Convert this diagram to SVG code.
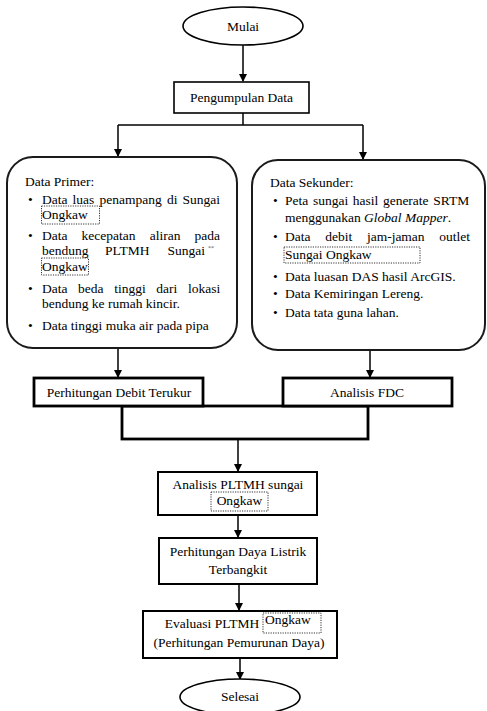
<svg xmlns="http://www.w3.org/2000/svg" width="487" height="711" viewBox="0 0 487 711">
<defs>
<marker id="ah" markerWidth="8" markerHeight="8" refX="7" refY="4" orient="auto" markerUnits="userSpaceOnUse">
<path d="M0,0 L8,4 L0,8 Z" fill="#000"/>
</marker>
<style>
text{font-size:13.5px;fill:#000}
.c{text-anchor:middle}
.box{fill:#fff;stroke:#000;stroke-width:1.6}
.thick{fill:#fff;stroke:#000;stroke-width:2.8}
.rb{fill:#fff;stroke:#1a1a1a;stroke-width:2}
.ln{fill:none;stroke:#000;stroke-width:1.5}
.arr{fill:none;stroke:#000;stroke-width:1.5;marker-end:url(#ah)}
.dot{fill:none;stroke:#000;stroke-width:0.8;stroke-dasharray:1.2 1.2}
</style>
</defs>
<g id="connectors">
<line class="arr" x1="243" y1="45" x2="243" y2="81"/>
<polyline class="ln" points="243,113 243,125"/>
<line class="ln" x1="118" y1="125" x2="363" y2="125"/>
<line class="arr" x1="118" y1="125" x2="118" y2="156"/>
<line class="arr" x1="363" y1="125" x2="363" y2="159"/>
<line class="arr" x1="118" y1="348" x2="118" y2="377"/>
<line class="arr" x1="370" y1="350" x2="370" y2="377"/>
<line class="arr" x1="238" y1="439" x2="238" y2="471"/>
<line class="arr" x1="238" y1="515" x2="238" y2="537"/>
<line class="arr" x1="239" y1="584" x2="239" y2="610"/>
<line class="arr" x1="240" y1="658" x2="240" y2="679"/>
</g>
<g font-family="Liberation Serif, Times New Roman, DejaVu Serif, serif">
<g id="mulai">
<ellipse cx="243" cy="26" rx="60" ry="19" class="box"/>
<text x="243" y="31" class="c">Mulai</text>
</g>
<g id="pengumpulan">
<rect x="174" y="82" width="135" height="31" class="box"/>
<text x="241.5" y="102" class="c">Pengumpulan Data</text>
</g>
<g id="primer">
<rect x="7" y="157" width="230" height="191" rx="26" class="rb"/>
<text x="25" y="186">Data Primer:</text>
<text x="28" y="204">•</text>
<text y="204"><tspan x="42">Data</tspan><tspan x="72.6">luas</tspan><tspan x="99.5">penampang</tspan><tspan x="166.9">di</tspan><tspan x="182.5">Sungai</tspan></text>
<text x="42" y="219">Ongkaw</text>
<rect x="41.5" y="206" width="58" height="18" class="dot"/>
<text x="28" y="240">•</text>
<text y="240"><tspan x="42">Data</tspan><tspan x="81.6">kecepatan</tspan><tspan x="149.7">aliran</tspan><tspan x="194.5">pada</tspan></text>
<text y="255"><tspan x="42">bendung</tspan><tspan x="105.1">PLTMH</tspan><tspan x="167.5">Sungai</tspan></text>
<text x="208" y="250" style="font-size:6px;fill:#555">**</text>
<text x="42" y="271">Ongkaw</text>
<rect x="41.5" y="258" width="47" height="17" class="dot"/>
<text x="28" y="293">•</text>
<text y="293"><tspan x="42">Data</tspan><tspan x="78.1">beda</tspan><tspan x="114.2">tinggi</tspan><tspan x="156.3">dari</tspan><tspan x="187.9">lokasi</tspan></text>
<text x="42" y="308">bendung ke rumah kincir.</text>
<text x="28" y="330">•</text>
<text x="42" y="330">Data tinggi muka air pada pipa</text>
</g>
<g id="sekunder">
<rect x="252" y="160" width="233" height="190" rx="26" class="rb"/>
<text x="270" y="187">Data Sekunder:</text>
<text x="273" y="205">•</text>
<text y="205"><tspan x="285">Peta</tspan><tspan x="312.9">sungai</tspan><tspan x="352.8">hasil</tspan><tspan x="382.9">generate</tspan><tspan x="433.2">SRTM</tspan></text>
<text x="285" y="222">menggunakan <tspan font-style="italic">Global Mapper</tspan>.</text>
<text x="273" y="241">•</text>
<text y="241"><tspan x="285">Data</tspan><tspan x="325.2">debit</tspan><tspan x="366.9">jam-jaman</tspan><tspan x="439.2">outlet</tspan></text>
<text x="285" y="259">Sungai Ongkaw</text>
<rect x="284" y="247" width="136" height="16" class="dot"/>
<text x="273" y="281">•</text>
<text x="285" y="281">Data luasan DAS hasil ArcGIS.</text>
<text x="273" y="298">•</text>
<text x="285" y="298">Data Kemiringan Lereng.</text>
<text x="273" y="317">•</text>
<text x="285" y="317">Data tata guna lahan.</text>
</g>
<g id="bracket">
<rect x="122" y="406" width="246" height="33" class="thick"/>
</g>
<g id="debit">
<rect x="34" y="378" width="169" height="28" class="thick"/>
<text x="119" y="397" class="c">Perhitungan Debit Terukur</text>
</g>
<g id="fdc">
<rect x="283" y="378" width="169" height="28" class="thick"/>
<text x="367" y="397" class="c">Analisis FDC</text>
</g>
<g id="analisis">
<rect x="158" y="472" width="159" height="43" class="box" style="stroke-width:2"/>
<text x="238" y="489" class="c">Analisis PLTMH sungai</text>
<text x="239.5" y="505" class="c">Ongkaw</text>
<rect x="211" y="492" width="57" height="19" class="dot"/>
</g>
<g id="daya">
<rect x="159" y="538" width="158" height="46" class="box" style="stroke-width:2"/>
<text x="238" y="556" class="c">Perhitungan Daya Listrik</text>
<text x="238" y="574" class="c">Terbangkit</text>
</g>
<g id="evaluasi">
<rect x="143" y="611" width="194" height="47" class="box" style="stroke-width:2"/>
<text x="212" y="628" class="c">Evaluasi PLTMH</text>
<text x="265" y="624">Ongkaw</text>
<rect x="263" y="613" width="58" height="20" class="dot"/>
<text x="239" y="647" class="c">(Perhitungan Pemurunan Daya)</text>
</g>
<g id="selesai">
<ellipse cx="240" cy="697" rx="60" ry="18" class="box"/>
<text x="240" y="701" class="c">Selesai</text>
</g>
</g>
</svg>
